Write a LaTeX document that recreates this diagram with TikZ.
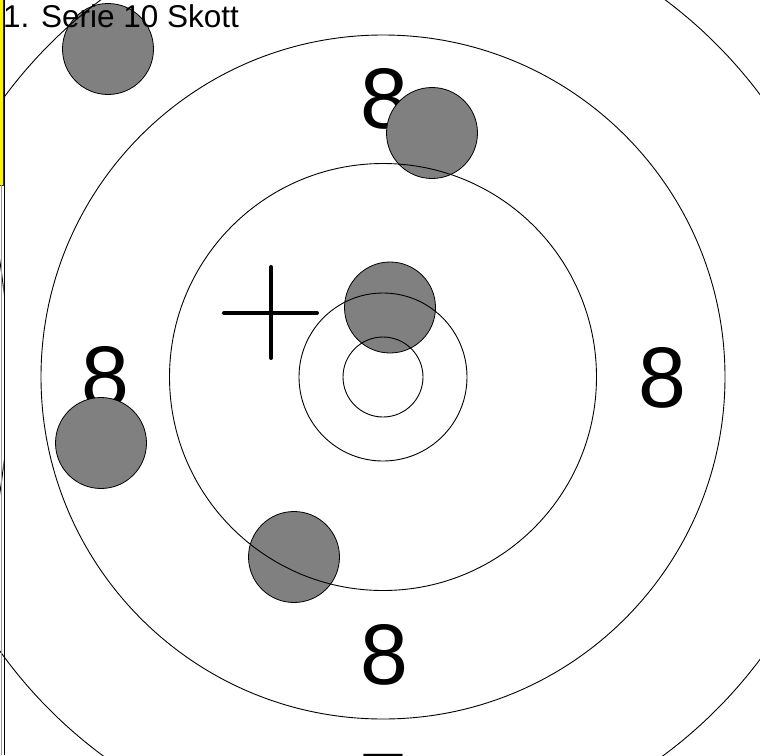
\documentclass[tikz,border=0pt]{standalone}
\usepackage{fontspec}
\setmainfont{Liberation Sans}
\usepackage{tikz}
\usepackage{xcolor}

\begin{document}
\begin{tikzpicture}[
  x=1pt, y=-1pt,
  ring/.style={draw, line width=0.9pt},
  shot/.style={draw, circle, line width=0.8pt, fill=black!50, minimum size=91pt, inner sep=0pt},
  score/.style={inner sep=0pt, font=\fontsize{86}{86}\selectfont},
  title/.style={inner sep=0pt, anchor=base west, font=\fontsize{31.5}{31.5}\selectfont},
  aim/.style={line width=4pt, line cap=round}
]
\useasboundingbox (0,0) rectangle (760,755);
\clip (0,0) rectangle (760,755);
\coordinate (centre) at (383,377);

% score numbers
\node[score] (top8) at (384,99) {8};
\node[score] (left8) at (105,377) {8};
\node[score] (right8) at (662,378) {8};
\node[score] (bottom8) at (384,655) {8};
\node[score] (top7) at (383,-29.5) {7};
\node[score] (bottom7) at (383,783.5) {7};

% hits
\node[shot] (shot1) at (108,49) {};
\node[shot] (shot2) at (432,133) {};
\node[shot] (shot3) at (390,307.5) {};
\node[shot] (shot4) at (101,443) {};
\node[shot] (shot5) at (294,557) {};

% rings
\draw[ring] (centre) circle (40);
\draw[ring] (centre) circle (84);
\draw[ring] (centre) circle (213.5);
\draw[ring] (centre) circle (342);
\draw[ring] (centre) circle (471);

% aiming cross
\coordinate (aim) at (271,313);
\draw[aim] ([xshift=-47pt]aim) -- ([xshift=46pt]aim);
\draw[aim] ([yshift=46pt]aim) -- ([yshift=-45pt]aim);

\node[title] (caption) at (3,27) {1. Serie 10 Skott};

% left neighbour panel
\begin{scope}
  \clip (0,0) rectangle (3.5,755);
  \draw[ring] (-765,377) circle (773.5);
\end{scope}
\draw[fill=yellow, draw=black!80, line width=0.8pt] (-2,-2) rectangle (3.2,185);
\draw[black!40, line width=0.6pt] (1.5,185) -- (1.5,755);
\draw[line width=1.3pt] (4.3,0) -- (4.3,755);
\end{tikzpicture}
\end{document}
